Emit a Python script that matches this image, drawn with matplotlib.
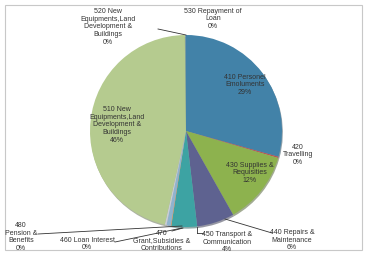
import matplotlib
matplotlib.use('Agg')
import matplotlib.pyplot as plt

plt.rcParams['font.family'] = ['Liberation Sans', 'DejaVu Sans']

# data (clockwise from 12 o'clock)
codes = ['410', '420', '430', '440', '450', '460', '470', '480', '510', '520', '530']
shares = [29.3, 0.2, 12.3, 6.3, 4.3, 0.1, 0.7, 0.3, 46.2, 0.1, 0.1]
colors = ['#4282a8', '#c0504d', '#8db24e', '#5e6290', '#3da3a3', '#f79646',
          '#8fb3cf', '#c9ced6', '#b5cb8f', '#9bbb59', '#4f81bd']
labels = ['410 Personel\nEmoluments\n29%', '420\nTravelling\n0%',
          '430 Supplies &\nRequisities\n12%', '440 Repairs &\nMaintenance\n6%',
          '450 Transport &\nCommunication\n4%', '460 Loan Interest\n0%',
          '470\nGrant,Subsidies &\nContributions', '480\nPension &\nBenefits\n0%',
          '510 New\nEquipments,Land\nDevelopment &\nBuildings\n46%',
          '520 New\nEquipments,Land\nDevelopment &\nBuildings\n0%',
          '530 Repayment of\nLoan\n0%']

W, H = 367, 254
fig = plt.figure(figsize=(W / 100, H / 100), dpi=100)
ax = fig.add_axes([0, 0, 1, 1])

cx, cy, r = 186, H - 131, 96
ax.pie(shares, colors=colors, startangle=90, counterclock=False,
       center=(cx, cy), radius=r, frame=True,
       wedgeprops=dict(linewidth=0),
       shadow=dict(ox=0.6, oy=-1.2, shade=0.5))
ax.set_xlim(0, W)
ax.set_ylim(0, H)
ax.set_aspect('auto')
ax.axis('off')

# label positions in pixels (x, y from top)
pos = {'410': (245, 85), '420': (298, 155), '430': (250, 173),
       '440': (292, 240), '450': (227, 242), '460': (87, 244),
       '470': (162, 241), '480': (21, 237), '510': (117, 125),
       '520': (108, 27), '530': (213, 19)}
for c, lab in zip(codes, labels):
    x, y = pos[c]
    ax.text(x, H - y, lab, ha='center', va='center', fontsize=5.0,
            color='#333333', linespacing=1.15)

# leader lines
leaders = [((158, 29), (186, 35)), ((225, 219), (272, 233)),
           ((197, 227), (197, 233)), ((197, 233), (203, 233)),
           ((115, 242), (182, 228)), ((38, 234), (182, 226)),
           ((172, 231), (183, 228))]
for (x1, y1), (x2, y2) in leaders:
    ax.plot([x1, x2], [H - y1, H - y2], color='#333333', lw=0.6)

# frame
ax.add_patch(plt.Rectangle((5, 4), W - 10, H - 9, fill=False,
                           edgecolor='#c8c8c8', lw=0.8))

fig.savefig('out.png', dpi=100, facecolor='white')
